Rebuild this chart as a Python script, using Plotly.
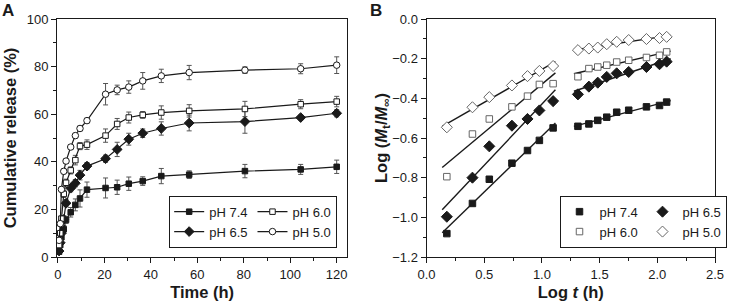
import numpy as np
import plotly.graph_objects as go
from plotly.subplots import make_subplots

# ---------------- Panel A data ----------------
time_h = [0.5, 1, 1.5, 2.5, 3.5, 5.5, 7.5, 9.5, 12.5, 20.5, 25.5, 30.5, 36.5, 44.5, 56.5, 80.5, 104.5, 120]
rel_74 = [2.2, 5.0, 8.3, 11.7, 15.6, 18.8, 21.9, 24.6, 28.3, 29.0, 29.3, 30.8, 31.9, 34.0, 34.6, 36.1, 36.8, 37.9]
rel_65 = [2.5, 6.0, 10.0, 15.8, 22.6, 28.9, 31.0, 34.4, 38.2, 41.3, 45.2, 49.5, 52.0, 54.0, 56.3, 56.9, 58.6, 60.4]
rel_60 = [5.0, 10.0, 16.1, 26.5, 31.2, 36.4, 40.7, 46.6, 47.2, 51.0, 55.9, 58.6, 59.7, 60.7, 61.4, 62.2, 64.2, 65.3]
rel_50 = [7.0, 14.0, 28.4, 36.0, 40.3, 46.2, 51.0, 54.0, 57.3, 68.4, 70.2, 71.4, 74.0, 76.1, 77.5, 78.5, 79.1, 80.6]
err_74 = [0.5, 1, 1.5, 1.5, 1.5, 2, 2.5, 3.6, 3.2, 4.2, 3, 2.8, 1.8, 3.2, 1.6, 2.8, 2.1, 2.8]
err_65 = [0.5, 1, 1, 1.5, 1.5, 1.5, 1.5, 2, 1.5, 1.5, 3, 2.5, 1.8, 2.8, 3.3, 4.9, 1, 1.5]
err_60 = [0.5, 1, 1, 1.5, 1.5, 1.5, 2, 1.5, 2, 2.8, 2.3, 2.3, 1.4, 2.8, 2.6, 3.2, 1.9, 2.2]
err_50 = [0.5, 1, 1, 1, 1, 1, 1, 1, 1, 4.5, 2, 2.6, 3.5, 2.8, 3, 1.4, 2.1, 3.5]

# ---------------- Panel B data ----------------
logt_early = [0.176, 0.398, 0.544, 0.740, 0.875, 0.978, 1.097]
logt_late = [1.312, 1.407, 1.484, 1.562, 1.648, 1.752, 1.906, 2.019, 2.081]
logm_74_early = [-1.082, -0.930, -0.808, -0.727, -0.663, -0.612, -0.549]
logm_74_late = [-0.541, -0.529, -0.511, -0.495, -0.470, -0.460, -0.443, -0.436, -0.419]
logm_65_early = [-0.997, -0.800, -0.642, -0.538, -0.504, -0.461, -0.414]
logm_65_late = [-0.380, -0.341, -0.321, -0.292, -0.274, -0.267, -0.242, -0.228, -0.215]
logm_60_early = [-0.795, -0.580, -0.504, -0.443, -0.389, -0.330, -0.326]
logm_60_late = [-0.291, -0.250, -0.242, -0.233, -0.217, -0.208, -0.194, -0.183, -0.166]
logm_50_early = [-0.546, -0.445, -0.394, -0.335, -0.288, -0.262, -0.237]
logm_50_late = [-0.157, -0.149, -0.144, -0.127, -0.115, -0.106, -0.101, -0.096, -0.090]

labels = ["pH 7.4", "pH 6.5", "pH 6.0", "pH 5.0"]

FONT = "Liberation Sans, Arial, sans-serif"
INK = "#1a1a1a"

fig = make_subplots(rows=1, cols=2, horizontal_spacing=0.0)

# Panel A traces
styleA = {
    "pH 7.4": dict(symbol="square", size=5.5, color=INK, line=dict(color=INK, width=1)),
    "pH 6.5": dict(symbol="diamond", size=7.5, color=INK, line=dict(color=INK, width=1)),
    "pH 6.0": dict(symbol="square", size=5.5, color="white", line=dict(color=INK, width=1)),
    "pH 5.0": dict(symbol="circle", size=6.5, color="white", line=dict(color=INK, width=1)),
}
groupA = {"pH 7.4": "a1", "pH 6.5": "a1", "pH 6.0": "a2", "pH 5.0": "a2"}
seriesA = {"pH 7.4": (rel_74, err_74), "pH 6.5": (rel_65, err_65),
           "pH 6.0": (rel_60, err_60), "pH 5.0": (rel_50, err_50)}
for name in labels:
    y, e = seriesA[name]
    fig.add_trace(go.Scatter(
        x=time_h, y=y, mode="lines+markers", name=name,
        line=dict(color=INK, width=1.2),
        marker=styleA[name],
        error_y=dict(type="data", array=e, visible=True, color="#555", thickness=1, width=2.5),
        legendgroup=groupA[name], legend="legend",
    ), row=1, col=1)

# Panel B traces
styleB = {
    "pH 7.4": dict(symbol="square", size=6.5, color=INK, line=dict(color=INK, width=1)),
    "pH 6.5": dict(symbol="diamond", size=8.5, color=INK, line=dict(color=INK, width=1)),
    "pH 6.0": dict(symbol="square", size=6.5, color="white", line=dict(color="#666", width=1)),
    "pH 5.0": dict(symbol="diamond", size=8.5, color="white", line=dict(color="#666", width=1)),
}
groupB = {"pH 7.4": "b1", "pH 6.0": "b1", "pH 6.5": "b2", "pH 5.0": "b2"}
seriesB = {"pH 7.4": (logm_74_early, logm_74_late), "pH 6.5": (logm_65_early, logm_65_late),
           "pH 6.0": (logm_60_early, logm_60_late), "pH 5.0": (logm_50_early, logm_50_late)}

# regression lines (least-squares fits of each segment)
for name in labels:
    for xs, ys, pad0, pad1 in ((logt_early, seriesB[name][0], 0.04, 0.02),
                               (logt_late, seriesB[name][1], 0.035, 0.035)):
        k, b = np.polyfit(xs, ys, 1)
        xx = np.array([min(xs) - pad0, max(xs) + pad1])
        fig.add_trace(go.Scatter(x=xx.tolist(), y=(k * xx + b).tolist(), mode="lines",
                                 line=dict(color=INK, width=1.4),
                                 showlegend=False, hoverinfo="skip"), row=1, col=2)

for name in ["pH 7.4", "pH 6.0", "pH 6.5", "pH 5.0"]:
    e, l = seriesB[name]
    fig.add_trace(go.Scatter(
        x=logt_early + logt_late, y=e + l, mode="markers", name=name,
        marker=styleB[name], legendgroup=groupB[name], legend="legend2",
    ), row=1, col=2)

axis_common = dict(showline=True, linecolor=INK, linewidth=1, mirror=True,
                   ticks="outside", ticklen=5, tickwidth=1, tickcolor=INK,
                   showgrid=False, zeroline=False, automargin=False,
                   tickfont=dict(family=FONT, size=13, color=INK))
title_font = dict(family=FONT, size=16.5, color=INK)

fig.update_xaxes(domain=[0, 0.4413], range=[-0.4, 124.6], tickvals=[0, 20, 40, 60, 80, 100, 120],
                 minor=dict(ticks="outside", ticklen=3, tickcolor=INK, dtick=10, tick0=0),
                 title=dict(text="<b>Time (h)</b>", font=title_font, standoff=11),
                 row=1, col=1, **axis_common)
fig.update_yaxes(range=[0, 100], tickvals=[0, 20, 40, 60, 80, 100],
                 minor=dict(ticks="outside", ticklen=3, tickcolor=INK, dtick=10, tick0=0),
                 title=dict(text="<b>Cumulative release (%)</b>", font=title_font, standoff=5),
                 row=1, col=1, **axis_common)
fig.update_xaxes(domain=[0.5616, 1], range=[0, 2.5], dtick=0.5, tick0=0, tickformat=".1f",
                 minor=dict(ticks="outside", ticklen=3, tickcolor=INK, dtick=0.25, tick0=0),
                 title=dict(text="<b>Log <i>t</i> (h)</b>", font=title_font, standoff=11),
                 row=1, col=2, **axis_common)
fig.update_yaxes(range=[-1.2, 0], dtick=0.2, tick0=0, tickformat=".1f",
                 minor=dict(ticks="outside", ticklen=3, tickcolor=INK, dtick=0.1, tick0=0),
                 title=dict(text="<b>Log (<i>M</i><sub>t</sub>/<i>M</i><sub>∞</sub>)</b>", font=title_font, standoff=0),
                 row=1, col=2, **axis_common)

legend_common = dict(orientation="h", traceorder="grouped", bgcolor="white",
                     bordercolor=INK, borderwidth=1, tracegroupgap=0,
                     font=dict(family=FONT, size=13, color=INK),
                     xanchor="right", yanchor="bottom")
fig.update_layout(
    width=737, height=301,
    margin=dict(l=57, r=10, t=19, b=44),
    paper_bgcolor="white", plot_bgcolor="white",
    font=dict(family=FONT, color=INK),
    legend=dict(x=0.4258, y=0.039, **legend_common),
    legend2=dict(x=1.0175, y=0.039, entrywidth=38, **legend_common),
    annotations=[
        dict(text="<b>A</b>", xref="paper", yref="paper", x=-0.087, y=1.083,
             xanchor="left", yanchor="top", showarrow=False,
             font=dict(family=FONT, size=17, color=INK)),
        dict(text="<b>B</b>", xref="paper", yref="paper", x=0.472, y=1.083,
             xanchor="left", yanchor="top", showarrow=False,
             font=dict(family=FONT, size=17, color=INK)),
    ],
)

fig.write_html("out.html", config={"displayModeBar": False},
               post_script="document.body.style.margin='0px';")
